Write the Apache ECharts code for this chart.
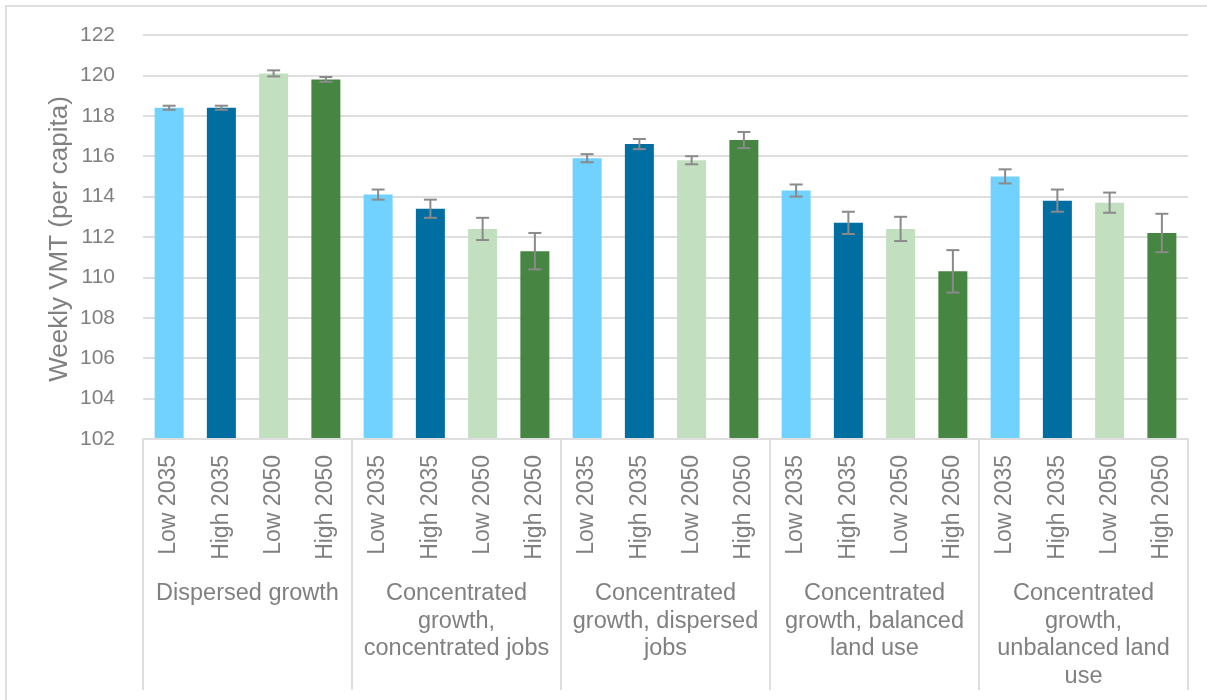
<!DOCTYPE html>
<html>
<head>
<meta charset="utf-8">
<style>
  html, body { margin: 0; padding: 0; background: #ffffff; }
  #chart { width: 1207px; height: 700px; }
</style>
<script src="https://cdn.jsdelivr.net/npm/echarts@6/dist/echarts.min.js"></script>
</head>
<body>
<div id="chart"></div>
<script>
// Scenario groups along the category axis
const groups = [
  'Dispersed growth',
  'Concentrated\ngrowth,\nconcentrated jobs',
  'Concentrated\ngrowth, dispersed\njobs',
  'Concentrated\ngrowth, balanced\nland use',
  'Concentrated\ngrowth,\nunbalanced land\nuse'
];
// Growth level / horizon year inside each group
const scenarios = ['Low 2035', 'High 2035', 'Low 2050', 'High 2050'];
const scenarioColors = ['#71d1ff', '#006ea0', '#c2dfc0', '#468642'];

// Weekly VMT per capita, one value per group
const low2035 = [118.4, 114.1, 115.9, 114.3, 115.0];
const high2035 = [118.4, 113.4, 116.6, 112.7, 113.8];
const low2050 = [120.1, 112.4, 115.8, 112.4, 113.7];
const high2050 = [119.8, 111.3, 116.8, 110.3, 112.2];

// Half-width of the error bar, one value per group
const low2035Err = [0.1, 0.25, 0.2, 0.3, 0.35];
const high2035Err = [0.1, 0.45, 0.25, 0.55, 0.55];
const low2050Err = [0.15, 0.55, 0.2, 0.6, 0.5];
const high2050Err = [0.12, 0.9, 0.4, 1.05, 0.95];

// Y axis ticks
const yMin = 102, yMax = 122, yStep = 2;

const seriesValues = [low2035, high2035, low2050, high2050];
const seriesErrors = [low2035Err, high2035Err, low2050Err, high2050Err];

const innerCategories = [];
const barData = [];
const errData = [];
groups.forEach((g, gi) => {
  scenarios.forEach((s, si) => {
    const idx = innerCategories.length;
    innerCategories.push(s);
    const v = seriesValues[si][gi];
    const e = seriesErrors[si][gi];
    barData.push({ value: v, itemStyle: { color: scenarioColors[si] } });
    errData.push([idx, v - e, v + e]);
  });
});

const textColor = '#808080';
const lineColor = '#dedede';
const font = '"Liberation Sans", Arial, sans-serif';

const chart = echarts.init(document.getElementById('chart'), null, { renderer: 'canvas' });
chart.setOption({
  animation: false,
  backgroundColor: '#ffffff',
  textStyle: { fontFamily: font },
  grid: { left: 143, right: 19, top: 35, bottom: 261, containLabel: false },
  xAxis: [
    {
      type: 'category',
      data: innerCategories,
      position: 'bottom',
      axisLine: { show: true, lineStyle: { color: lineColor, width: 2 } },
      axisTick: { show: false },
      axisLabel: {
        interval: 0, rotate: 90, margin: 16,
        fontSize: 23, color: textColor, fontFamily: font
      },
      z: 3
    },
    {
      type: 'category',
      data: groups,
      position: 'bottom',
      axisLine: { show: false },
      axisTick: { show: true, interval: 0, length: 251, lineStyle: { color: lineColor, width: 2 } },
      axisLabel: {
        interval: 0, margin: 141, lineHeight: 27.5,
        fontSize: 23.5, color: textColor, fontFamily: font, align: 'center'
      }
    }
  ],
  yAxis: {
    type: 'value',
    min: yMin, max: yMax, interval: yStep,
    axisLine: { show: false },
    axisTick: { show: false },
    axisLabel: { margin: 28, fontSize: 21, color: textColor, fontFamily: font },
    splitLine: { lineStyle: { color: lineColor, width: 2 } }
  },
  graphic: [
    {
      type: 'rect', silent: true, z: -1,
      shape: { x: 6, y: 6, width: 1400, height: 900 },
      style: { fill: 'none', stroke: lineColor, lineWidth: 2 }
    },
    {
      type: 'text', silent: true,
      x: 60, y: 239, rotation: Math.PI / 2,
      style: {
        text: 'Weekly VMT (per capita)',
        fill: textColor, font: '26px ' + font,
        textAlign: 'center', textVerticalAlign: 'middle'
      }
    }
  ],
  series: [
    {
      type: 'bar',
      xAxisIndex: 0,
      data: barData,
      barWidth: '55.5%'
    },
    {
      type: 'custom',
      xAxisIndex: 0,
      data: errData,
      z: 5,
      renderItem: function (params, api) {
        const x = api.value(0);
        const lo = api.coord([x, api.value(1)]);
        const hi = api.coord([x, api.value(2)]);
        const cap = 6.5;
        const style = { stroke: '#8a8a8a', lineWidth: 2, fill: 'none' };
        return {
          type: 'group',
          children: [
            { type: 'line', shape: { x1: lo[0], y1: lo[1], x2: hi[0], y2: hi[1] }, style: style },
            { type: 'line', shape: { x1: lo[0] - cap, y1: lo[1], x2: lo[0] + cap, y2: lo[1] }, style: style },
            { type: 'line', shape: { x1: hi[0] - cap, y1: hi[1], x2: hi[0] + cap, y2: hi[1] }, style: style }
          ]
        };
      }
    }
  ]
});
</script>
</body>
</html>
